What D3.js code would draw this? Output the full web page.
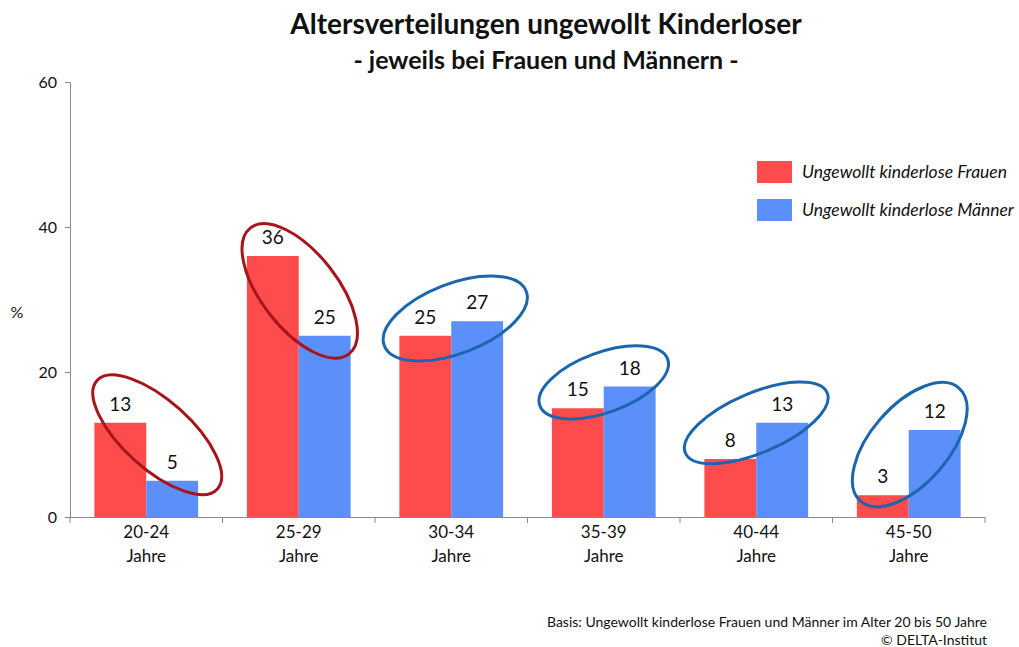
<!DOCTYPE html>
<html>
<head>
<meta charset="utf-8">
<script src="https://cdn.jsdelivr.net/npm/d3@7"></script>
<style>
  body { margin: 0; background: #fff; }
  text { font-family: Lato, "Open Sans", sans-serif; fill: #111; }
</style>
</head>
<body>
<svg width="1019" height="647"></svg>
<script>
// data
var categories = ["20-24", "25-29", "30-34", "35-39", "40-44", "45-50"];
var series = ["Ungewollt kinderlose Frauen", "Ungewollt kinderlose Männer"];
var frauen = [13, 36, 25, 15, 8, 3];
var maenner = [5, 25, 27, 18, 13, 12];
var yTicks = [0, 20, 40, 60];

// hand drawn rings round each pair (colour, half axes, tilt, nudge)
var rings = [
  {col: "#a8141c", rx: 81, ry: 34, rot: 42, dx: 11, dy: 2},
  {col: "#a8141c", rx: 80, ry: 38, rot: 52, dx: 1, dy: 14},
  {col: "#1c66ad", rx: 76, ry: 35, rot: -21, dx: 4, dy: 9},
  {col: "#1c66ad", rx: 68, ry: 30, rot: -20, dx: 0, dy: 4},
  {col: "#1c66ad", rx: 77, ry: 30, rot: -23, dx: 0, dy: 1},
  {col: "#1c66ad", rx: 75, ry: 39, rot: -49, dx: 1, dy: 1}
];

var colors = ["#fe4c4c", "#5b8ff9"];
var axis_col = "#8a8a8a";

var svg = d3.select("svg");

var x0 = d3.scaleBand().domain(categories).range([70, 985]);
var x1 = d3.scaleBand().domain([0, 1]).range([0, x0.bandwidth()]).paddingOuter(0.47);
var y = d3.scaleLinear().domain([0, 60]).range([517, 82]);

var rows = categories.map(function(c, i) {
  return {cat: c, vals: [frauen[i], maenner[i]], ring: rings[i]};
});

// title
svg.append("text")
  .attr("x", 546).attr("y", 34)
  .attr("text-anchor", "middle")
  .style("font-size", "28px").style("font-weight", "bold")
  .text("Altersverteilungen ungewollt Kinderloser");
svg.append("text")
  .attr("x", 546).attr("y", 69)
  .attr("text-anchor", "middle")
  .style("font-size", "25px").style("font-weight", "bold")
  .text("- jeweils bei Frauen und Männern -");

// y axis
var yAxis = svg.append("g")
  .attr("transform", "translate(70,0)")
  .call(d3.axisLeft(y).tickValues(yTicks).tickSize(5).tickPadding(8));
yAxis.select(".domain").attr("stroke", axis_col);
yAxis.selectAll(".tick line").attr("stroke", axis_col);
yAxis.selectAll(".tick text")
  .style("font-family", "Lato, sans-serif").style("font-size", "16px").attr("fill", "#111");

svg.append("text")
  .attr("x", 17).attr("y", 318)
  .attr("text-anchor", "middle")
  .style("font-size", "16px")
  .text("%");

// bars
var groups = svg.selectAll(".grp")
  .data(rows)
  .enter().append("g")
  .attr("class", "grp")
  .attr("transform", function(d) { return "translate(" + x0(d.cat) + ",0)"; });

groups.selectAll("rect")
  .data(function(d) { return d.vals; })
  .enter().append("rect")
  .attr("x", function(d, i) { return x1(i); })
  .attr("width", x1.bandwidth())
  .attr("y", function(d) { return y(d); })
  .attr("height", function(d) { return y(0) - y(d); })
  .attr("fill", function(d, i) { return colors[i]; });

groups.selectAll(".val")
  .data(function(d) { return d.vals; })
  .enter().append("text")
  .attr("class", "val")
  .attr("x", function(d, i) { return x1(i) + x1.bandwidth() / 2; })
  .attr("y", function(d) { return y(d) - 12; })
  .attr("text-anchor", "middle")
  .style("font-size", "19px")
  .text(function(d) { return d; });

// x axis
svg.append("line")
  .attr("x1", 70).attr("x2", 985)
  .attr("y1", y(0) + 0.5).attr("y2", y(0) + 0.5)
  .attr("stroke", axis_col);
svg.selectAll(".xtick")
  .data(categories.concat(["end"]))
  .enter().append("line")
  .attr("class", "xtick")
  .attr("x1", function(d, i) { return i < categories.length ? x0(d) : x0.range()[1]; })
  .attr("x2", function(d, i) { return i < categories.length ? x0(d) : x0.range()[1]; })
  .attr("y1", y(0)).attr("y2", y(0) + 6)
  .attr("stroke", axis_col);

var xl = svg.selectAll(".xlab")
  .data(categories)
  .enter().append("text")
  .attr("class", "xlab")
  .attr("text-anchor", "middle")
  .attr("x", function(d) { return x0(d) + x0.bandwidth() / 2; })
  .style("font-size", "17px");
xl.append("tspan").attr("x", function(d) { return x0(d) + x0.bandwidth() / 2; })
  .attr("y", 538).text(function(d) { return d; });
xl.append("tspan").attr("x", function(d) { return x0(d) + x0.bandwidth() / 2; })
  .attr("y", 562).text("Jahre");

// rings
groups.append("ellipse")
  .attr("transform", function(d) {
    var cx = x0.bandwidth() / 2 + d.ring.dx;
    var cy = y((d.vals[0] + d.vals[1]) / 2) - 19 + d.ring.dy;
    return "translate(" + cx + "," + cy + ") rotate(" + d.ring.rot + ")";
  })
  .attr("rx", function(d) { return d.ring.rx; })
  .attr("ry", function(d) { return d.ring.ry; })
  .attr("fill", "none")
  .attr("stroke", function(d) { return d.ring.col; })
  .attr("stroke-width", 3);

// legend
var leg = svg.selectAll(".leg")
  .data(series)
  .enter().append("g")
  .attr("class", "leg")
  .attr("transform", function(d, i) { return "translate(757," + (161 + i * 38) + ")"; });
leg.append("rect")
  .attr("width", 35).attr("height", 22)
  .attr("fill", function(d, i) { return colors[i]; });
leg.append("text")
  .attr("x", 45).attr("y", 17)
  .style("font-size", "17.5px").style("font-style", "italic")
  .text(function(d) { return d; });

// footnote
svg.append("text")
  .attr("x", 987).attr("y", 627)
  .attr("text-anchor", "end")
  .style("font-size", "14px")
  .text("Basis: Ungewollt kinderlose Frauen und Männer im Alter 20 bis 50 Jahre");
svg.append("text")
  .attr("x", 987).attr("y", 645)
  .attr("text-anchor", "end")
  .style("font-size", "14px")
  .text("©  DELTA-Institut");
</script>
</body>
</html>
